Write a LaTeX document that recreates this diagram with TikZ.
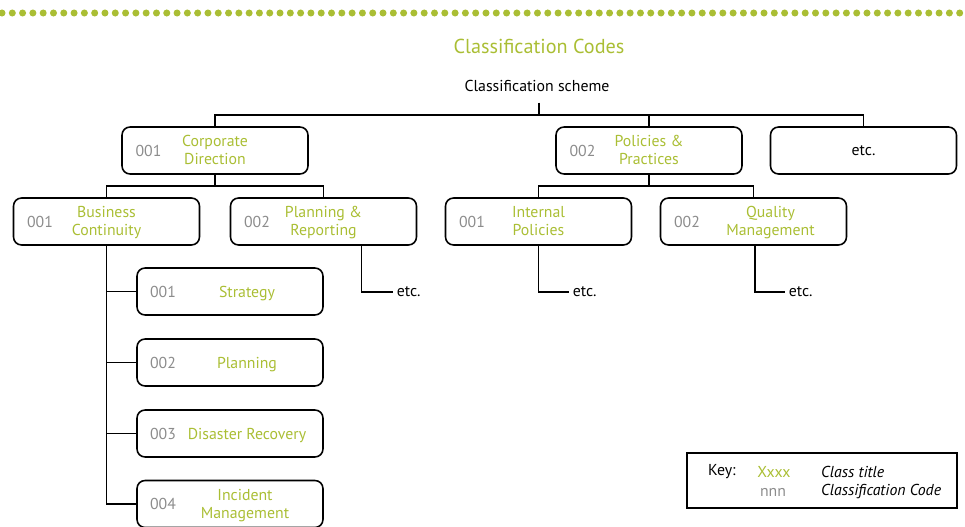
\documentclass[tikz,border=0pt]{standalone}
\usepackage{fontspec}
\setmainfont{PT Sans}
\usetikzlibrary{positioning}
\definecolor{classgreen}{RGB}{170,190,52}
\definecolor{codegray}{RGB}{140,140,140}
\tikzset{
  classbox/.style={draw, rounded corners=0.16cm, line width=0.9pt, minimum width=3.72cm, minimum height=0.94cm},
  classtitle/.style={text=classgreen, align=center, font=\fontsize{9}{10.2}\selectfont, yshift=-0.05cm,
    execute at begin node=\strut, execute at end node=\strut},
  classcode/.style={text=codegray, inner sep=0pt, font=\fontsize{9}{10.2}\selectfont},
  plaintext/.style={font=\fontsize{9}{10.2}\selectfont},
  etctext/.style={plaintext, anchor=west, inner xsep=2pt},
  link/.style={line width=0.9pt}
}
\begin{document}
\begin{tikzpicture}[x=0.02cm, y=-0.02cm]
        \useasboundingbox (0,0) rectangle (965,527);
        \draw[classgreen, line width=4pt, line cap=round, dash pattern=on 0pt off 0.206cm] (2,13) -- (965,13);

        \node[text=classgreen, font=\fontsize{11.5}{13}\selectfont] (title) at (539,46) {Classification Codes};
        \node[plaintext, inner ysep=6pt] (scheme) at (537,86) {Classification scheme};

        % top level
        \node[classbox] (cd) at (215,150.5) {};
        \node[classtitle] (cdt) at (cd) {Corporate\\Direction};
        \node[classcode, right=0.28cm of cd.west] (cdc) {001};
        \node[classbox] (pp) at (649,150.5) {};
        \node[classtitle] (ppt) at (pp) {Policies \&\\Practices};
        \node[classcode, right=0.28cm of pp.west] (ppc) {002};
        \node[classbox, plaintext] (etcb) at (863.5,150.5) {etc.};

        % second level
        \node[classbox] (bc) at (106.5,221.5) {};
        \node[classtitle] (bct) at (bc) {Business\\Continuity};
        \node[classcode, right=0.28cm of bc.west] (bcc) {001};
        \node[classbox] (pr) at (323.5,221.5) {};
        \node[classtitle] (prt) at (pr) {Planning \&\\Reporting};
        \node[classcode, right=0.28cm of pr.west] (prc) {002};
        \node[classbox] (ip) at (538.5,221.5) {};
        \node[classtitle] (ipt) at (ip) {Internal\\Policies};
        \node[classcode, right=0.28cm of ip.west] (ipc) {001};
        \node[classbox] (qm) at (753.5,221.5) {};
        \node[classtitle] (qmt) at ([xshift=0.34cm]qm.center) {Quality\\Management};
        \node[classcode, right=0.28cm of qm.west] (qmc) {002};

        % third level
        \node[classbox] (st) at (230,291.5) {};
        \node[classtitle] (stt) at ([xshift=0.34cm]st.center) {Strategy};
        \node[classcode, right=0.27cm of st.west] (stc) {001};
        \node[classbox] (pl) at (230,362.5) {};
        \node[classtitle] (plt) at ([xshift=0.34cm]pl.center) {Planning};
        \node[classcode, right=0.27cm of pl.west] (plc) {002};
        \node[classbox] (dr) at (230,433.5) {};
        \node[classtitle] (drt) at ([xshift=0.34cm]dr.center) {Disaster Recovery};
        \node[classcode, right=0.27cm of dr.west] (drc) {003};
        \node[classbox] (im) at (230,504) {};
        \node[classtitle] (imt) at ([xshift=0.3cm]im.center) {Incident\\Management};
        \node[classcode, right=0.27cm of im.west] (imc) {004};

        \node[etctext] (pretc) at (393,292) {etc.};
        \node[etctext] (ipetc) at (569,292) {etc.};
        \node[etctext] (qmetc) at (785,292) {etc.};

        % key
        \node[draw, line width=0.9pt, minimum width=5.4cm, minimum height=1.1cm] (key) at (822,480.5) {};
        \node[plaintext, anchor=west] (keyl) at (702,472) {Key:};
        \node[plaintext, text=classgreen] (keyx) at (774,472) {Xxxx};
        \node[plaintext, text=codegray] (keyn) at (773,492) {nnn};
        \node[plaintext, anchor=west, font=\fontsize{9}{10.2}\selectfont\itshape] (keyt) at (815,472) {Class title};
        \node[plaintext, anchor=west, font=\fontsize{9}{10.2}\selectfont\itshape] (keyc) at (815,492) {Classification Code};

        % connectors
        \coordinate (top) at (539,115);
        \coordinate (cdbar) at (215,186);
        \coordinate (ppbar) at (649,186);
        \draw[link] (scheme.south -| top) -- (top);
        \draw[link] (cd.north) |- (top) -| (etcb.north);
        \draw[link] (pp.north) -- (pp.north |- top);
        \draw[link] (cd.south) -- (cdbar);
        \draw[link] (bc.north) |- (cdbar) -| (pr.north);
        \draw[link] (pp.south) -- (ppbar);
        \draw[link] (ip.north) |- (ppbar) -| (qm.north);
        \foreach \n in {st,pl,dr,im}
          \draw[link] (bc.south) |- (\n.west);
        \draw[link] ([xshift=0.76cm]pr.south) |- (pretc.west);
        \draw[link] (ip.south) |- (ipetc.west);
        \draw[link] ([xshift=0.03cm]qm.south) |- (qmetc.west);
      \end{tikzpicture}
\end{document}
